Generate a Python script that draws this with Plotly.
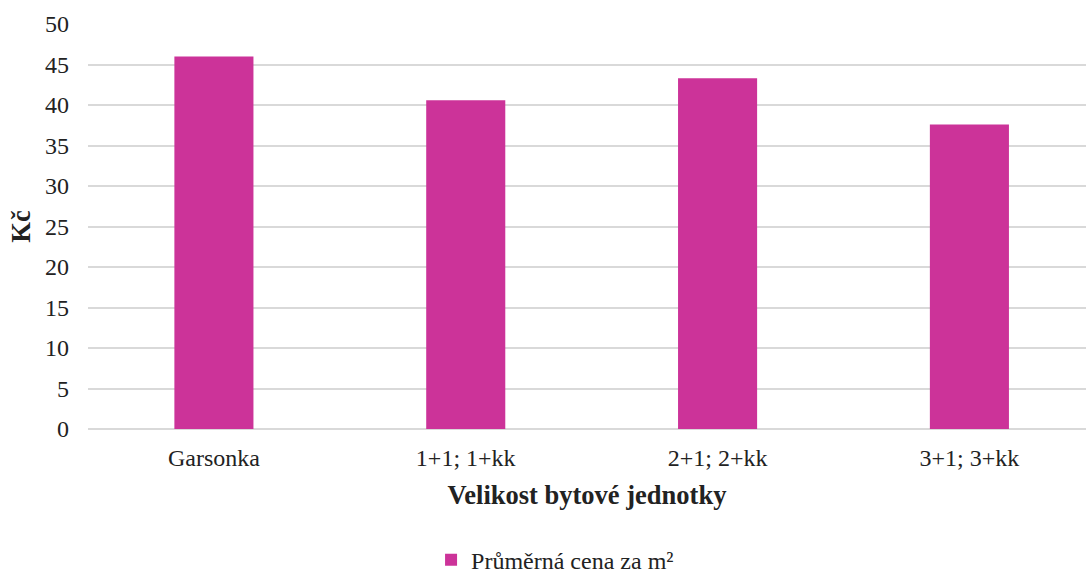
import plotly.graph_objects as go

categories = ["Garsonka", "1+1; 1+kk", "2+1; 2+kk", "3+1; 3+kk"]
values = [46.0, 40.6, 43.3, 37.6]
series_name = "Průměrná cena za m²"
y_ticks = [0, 5, 10, 15, 20, 25, 30, 35, 40, 45, 50]

font_family = "Liberation Serif"

fig = go.Figure()
fig.add_trace(go.Bar(
    x=list(range(len(categories))),
    y=values,
    name=series_name,
    marker=dict(color="#CC3399", line=dict(width=0)),
    width=0.314,
    showlegend=True,
))

fig.update_layout(
    width=1086, height=573,
    margin=dict(l=88, r=0, t=24, b=144, autoexpand=False),
    paper_bgcolor="white", plot_bgcolor="white",
    font=dict(family=font_family, size=24, color="#222"),
    showlegend=True,
    legend=dict(orientation="h", x=0.468, xanchor="center", y=-0.324, yanchor="middle",
                font=dict(size=24, family=font_family, color="#222"),
                itemwidth=30, tracegroupgap=0),
    xaxis=dict(
        range=[-0.5, 3.463],
        tickmode="array",
        tickvals=list(range(len(categories))),
        ticktext=categories,
        showgrid=False, zeroline=False, showline=False,
        ticks="", ticklabelstandoff=12, automargin=False,
        tickfont=dict(size=24, family=font_family, color="#222"),
        title=dict(text="<b>Velikost bytové jednotky</b>", standoff=15,
                   font=dict(size=26.5, family=font_family, color="#222")),
    ),
    yaxis=dict(
        range=[0, 50],
        tickmode="array",
        tickvals=y_ticks,
        showgrid=True, gridcolor="#d9d9d9", gridwidth=1.5,
        zeroline=True, zerolinecolor="#d9d9d9", zerolinewidth=1.5,
        showline=False, ticks="", ticklabelstandoff=18, automargin=False,
        tickfont=dict(size=24, family=font_family, color="#222"),
        title=dict(text="<b>Kč</b>", standoff=6,
                   font=dict(size=26.5, family=font_family, color="#222")),
    ),
)

fig.write_html("out.html")
